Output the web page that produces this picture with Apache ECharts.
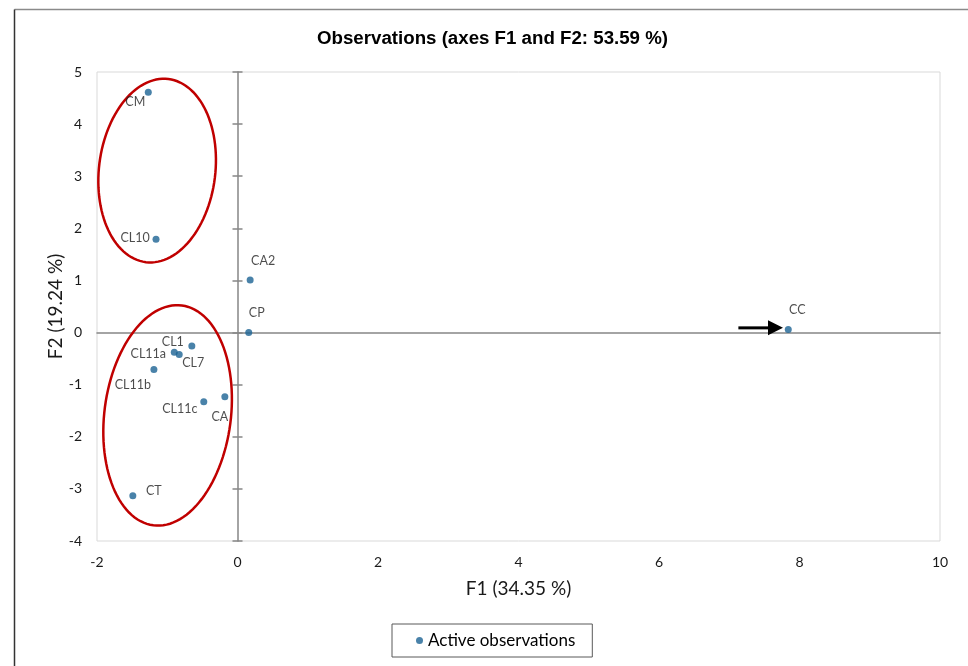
<!DOCTYPE html>
<html>
<head>
<meta charset="utf-8">
<script src="https://cdn.jsdelivr.net/npm/echarts@6/dist/echarts.min.js"></script>
<style>
html,body{margin:0;padding:0;background:#fff;}
#main{width:968px;height:666px;}
</style>
</head>
<body>
<div id="main"></div>
<script>
// ---- data ----
const obsNames = ['CM', 'CL10', 'CA2', 'CP', 'CC', 'CL1', 'CL11a', 'CL7', 'CL11b', 'CL11c', 'CA', 'CT'];
const f1Values = [-1.27, -1.16, 0.18, 0.16, 7.84, -0.65, -0.90, -0.83, -1.19, -0.48, -0.18, -1.49];
const f2Values = [4.61, 1.79, 1.01, 0.00, 0.06, -0.26, -0.38, -0.42, -0.71, -1.33, -1.23, -3.13];
const xTicks = [-2, 0, 2, 4, 6, 8, 10];
const yTicks = [-4, -3, -2, -1, 0, 1, 2, 3, 4, 5];
// annotation ellipses: centre F1, centre F2, semi-axis along F1, semi-axis along F2, tilt (deg)
const ellipseCentersF1 = [-1.144, -0.995];
const ellipseCentersF2 = [3.108, -1.59];
const ellipseSemiF1 = [0.828, 0.90];
const ellipseSemiF2 = [1.77, 2.127];
const ellipseTilt = [7, 7.4];
// arrow pointing at CC
const arrowStart = [7.13, 0.09];
const arrowEnd = [7.765, 0.09];

// ---- label placement (style) ----
const labelOffsets = {
  CM: [-13, 10], CL10: [-21, -1], CA2: [13, -19], CP: [8, -20], CC: [9, -19],
  CL1: [-19, -4], CL11a: [-26, 2], CL7: [14, 9], CL11b: [-21, 15],
  CL11c: [-24, 7], CA: [-5, 20], CT: [21, -5]
};

const FONT = 'Lato, "Open Sans", sans-serif';
const pointColor = '#1B6394';
const textColor = '#1a1a1a';

const scatterData = obsNames.map((n, i) => ({
  name: n,
  value: [f1Values[i], f2Values[i]],
  label: { offset: labelOffsets[n] }
}));

const ellipseData = ellipseCentersF1.map((c, i) => [c, ellipseCentersF2[i], ellipseSemiF1[i], ellipseSemiF2[i], ellipseTilt[i]]);

const chart = echarts.init(document.getElementById('main'), null, { renderer: 'canvas' });

const xMin = xTicks[0], xMax = xTicks[xTicks.length - 1];
const yMin = yTicks[0], yMax = yTicks[yTicks.length - 1];

const option = {
  backgroundColor: '#fff',
  animation: false,
  title: {
    text: 'Observations (axes F1 and F2: 53.59 %)',
    left: 317, top: 29, padding: 0,
    textStyle: { fontFamily: '"Liberation Sans", Arial, sans-serif', fontWeight: 'bold', fontSize: 18.7, color: '#000' }
  },
  grid: { left: 97, right: 28, top: 72, bottom: 125, show: true, borderColor: '#d9d9d9', borderWidth: 1, containLabel: false },
  legend: {
    data: ['Active observations'],
    left: 392, top: 624,
    padding: [8, 17, 8, 24],
    borderColor: '#595959', borderWidth: 1,
    icon: 'circle', itemWidth: 7, itemHeight: 7, itemGap: 6,
    textStyle: { fontFamily: FONT, fontSize: 17, color: '#000' }
  },
  xAxis: [
    {
      type: 'value', gridIndex: 0, position: 'bottom', min: xMin, max: xMax, interval: 2,
      axisLine: { show: false, onZero: false }, axisTick: { show: false }, splitLine: { show: false },
      axisLabel: { margin: 14, fontFamily: FONT, fontSize: 14, color: textColor },
      name: 'F1 (34.35 %)', nameLocation: 'middle', nameGap: 38, nameMoveOverlap: false,
      nameTextStyle: { fontFamily: FONT, fontSize: 19, color: textColor }
    },
    {
      type: 'value', gridIndex: 0, position: 'bottom', min: xMin, max: xMax, interval: 2,
      axisLine: { show: true, onZero: true, onZeroAxisIndex: 0, lineStyle: { color: '#868686', width: 1.5 } },
      axisTick: { show: false }, axisLabel: { show: false }, splitLine: { show: false }
    }
  ],
  yAxis: [
    {
      type: 'value', gridIndex: 0, position: 'left', min: yMin, max: yMax, interval: 1,
      axisLine: { show: false, onZero: false }, axisTick: { show: false }, splitLine: { show: false },
      axisLabel: { margin: 15, fontFamily: FONT, fontSize: 14, color: textColor },
      name: 'F2 (19.24 %)', nameLocation: 'middle', nameGap: 32, nameMoveOverlap: false,
      nameTextStyle: { fontFamily: FONT, fontSize: 19, color: textColor }
    },
    {
      type: 'value', gridIndex: 0, position: 'left', min: yMin, max: yMax, interval: 1,
      axisLine: { show: true, onZero: true, onZeroAxisIndex: 0, lineStyle: { color: '#868686', width: 1.5 } },
      axisTick: { show: true, inside: false, length: 5, lineStyle: { color: '#868686', width: 1.5 } },
      axisLabel: { show: false }, splitLine: { show: false }
    },
    {
      type: 'value', gridIndex: 0, position: 'left', min: yMin, max: yMax, interval: 1,
      axisLine: { show: false, onZero: true, onZeroAxisIndex: 0 },
      axisTick: { show: true, inside: true, length: 5, lineStyle: { color: '#868686', width: 1.5 } },
      axisLabel: { show: false }, splitLine: { show: false }
    }
  ],
  series: [
    {
      type: 'custom',
      name: 'groups',
      xAxisIndex: 0, yAxisIndex: 0,
      silent: true, z: 3,
      encode: { x: 0, y: 1 },
      data: ellipseData,
      renderItem: function (params, api) {
        const c = api.coord([api.value(0), api.value(1)]);
        const sz = api.size([api.value(2), api.value(3)], [api.value(0), api.value(1)]);
        const b = sz[0], a = sz[1];
        const t = api.value(4) * Math.PI / 180;
        const pts = [];
        const N = 120;
        for (let k = 0; k < N; k++) {
          const th = 2 * Math.PI * k / N;
          const ex = b * Math.cos(th), ey = a * Math.sin(th);
          const rx = ex * Math.cos(t) - ey * Math.sin(t);
          const ry = ex * Math.sin(t) + ey * Math.cos(t);
          pts.push([c[0] + rx, c[1] + ry]);
        }
        return {
          type: 'polygon',
          shape: { points: pts },
          style: { fill: 'none', stroke: '#C00000', lineWidth: 2.5 }
        };
      }
    },
    {
      type: 'custom',
      name: 'arrow',
      xAxisIndex: 0, yAxisIndex: 0,
      silent: true, z: 4,
      encode: { x: [0, 2], y: 1 },
      data: [[arrowStart[0], arrowStart[1], arrowEnd[0]]],
      renderItem: function (params, api) {
        const p1 = api.coord([api.value(0), api.value(1)]);
        const p2 = api.coord([api.value(2), api.value(1)]);
        const headLen = 15, headHalf = 7.5;
        return {
          type: 'group',
          children: [
            { type: 'line', shape: { x1: p1[0], y1: p1[1], x2: p2[0] - headLen + 1, y2: p2[1] }, style: { stroke: '#000', lineWidth: 3 } },
            { type: 'polygon', shape: { points: [[p2[0], p2[1]], [p2[0] - headLen, p2[1] - headHalf], [p2[0] - headLen, p2[1] + headHalf]] }, style: { fill: '#000' } }
          ]
        };
      }
    },
    {
      type: 'scatter',
      name: 'Active observations',
      xAxisIndex: 0, yAxisIndex: 0,
      z: 5,
      symbol: 'circle', symbolSize: 7,
      itemStyle: { color: pointColor },
      label: {
        show: true, position: 'inside', formatter: '{b}',
        fontFamily: FONT, fontSize: 12.5, color: '#1f1f1f',
        align: 'center', verticalAlign: 'middle'
      },
      data: scatterData
    }
  ],
  graphic: [
    { type: 'line', shape: { x1: 14.5, y1: 9.5, x2: 968, y2: 9.5 }, style: { stroke: '#8a8a8a', lineWidth: 1.5 }, silent: true },
    { type: 'line', shape: { x1: 14.5, y1: 9.5, x2: 14.5, y2: 666 }, style: { stroke: '#333', lineWidth: 1.5 }, silent: true }
  ]
};
chart.setOption(option);
</script>
</body>
</html>
